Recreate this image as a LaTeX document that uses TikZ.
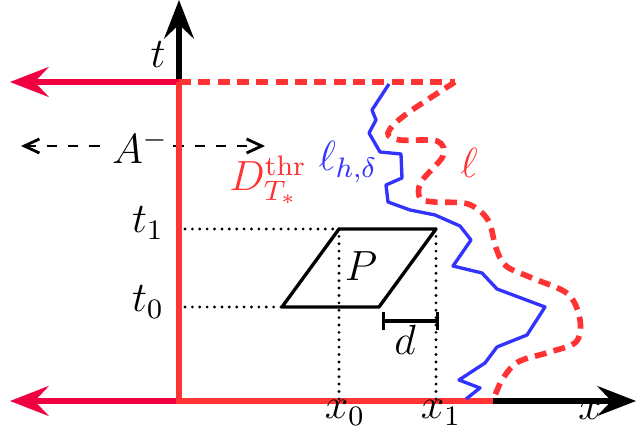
\documentclass[tikz,border=0pt]{standalone}
\usepackage{tikz}
\usetikzlibrary{arrows.meta, calc}
\definecolor{RegRed}{RGB}{255, 51, 51}
\definecolor{AxRed}{RGB}{240, 0, 64}
\definecolor{PathBlue}{RGB}{51, 51, 255}

\begin{document}
\begin{tikzpicture}[
  x=0.01cm, y=-0.01cm,
  every node/.style={font=\fontsize{11.5}{14}\selectfont},
  bigtip/.style={-{Stealth[length=11pt, width=8.5pt, inset=4pt]}},
  axis/.style={bigtip, line width=1.5pt, draw=black},
  leftax/.style={bigtip, line width=1.5pt, draw=AxRed},
  region/.style={line width=1.5pt, draw=RegRed},
  bound/.style={line width=1.6pt, draw=RegRed, dash pattern=on 3.4pt off 2.1pt},
  walk/.style={line width=0.95pt, draw=PathBlue},
  helper/.style={line width=0.9pt, line cap=round, dash pattern=on 0pt off 2.1pt},
  para/.style={line width=0.95pt, line join=round}
]
  \useasboundingbox (0,0) rectangle (636,437);

  %% Points
  \coordinate (O)     at (179,401);
  \coordinate (tTop)  at (179,0);
  \coordinate (tCut)  at (179,82);
  \coordinate (xEnd)  at (636,401);
  \coordinate (xCut)  at (493,401);
  \coordinate (lTop)  at (455,82);
  \coordinate (leftT) at (10,82);
  \coordinate (leftO) at (10,401);

  %% Parallelogram P
  \coordinate (pA) at (282,307);
  \coordinate (pB) at (379,307);
  \coordinate (pC) at (436,229);
  \coordinate (pD) at (339,229);
  \coordinate (tickOne)  at (185,229);
  \coordinate (tickZero) at (185,307);
  \coordinate (footZero) at (339,403);
  \coordinate (footOne)  at (436,403);
  \coordinate (dL) at (382,321);
  \coordinate (dR) at (439,321);

  %% A^- arrow
  \coordinate (aL) at (21,146);
  \coordinate (aR) at (265,146);
  \draw[dashed, line width=0.8pt, {Straight Barb[length=4.3pt, width=4pt]}-{Straight Barb[length=4.3pt, width=4pt]}]
    (aL) -- (aR);
  \node[fill=white, inner sep=0.5pt] (am) at (140,147) {$A^{-}$};

  %% Axes
  \draw[axis]   (tCut) -- (tTop);
  \draw[axis]   (xCut) -- (xEnd);
  \draw[leftax] (tCut) -- (leftT);
  \draw[leftax] (O) -- (leftO);
  \draw[region] (tCut) -- (O) -- (xCut);
  \draw[bound]  (tCut) -- (lTop);

  %% Boundary curve l
  \draw[bound] plot[smooth, tension=0.55] coordinates {
    (455,82) (405,115) (388,133) (400,140) (437,141) (443,156) (421,182)
    (420,198) (434,202) (468,204) (488,220) (496,248) (506,266) (532,278)
    (568,294) (580,320) (576,342) (550,352) (518,362) (502,380) (493,401)};

  %% Discrete path l_{h,delta}
  \draw[walk, line join=round] (389,84) -- (372,110) -- (376,120) -- (369,133)
    -- (380,152) -- (401,154) -- (402,178) -- (386,185) -- (388,202)
    -- (410,210) -- (435,215) -- (460,226) -- (471,240) -- (453,266)
    -- (482,273) -- (497,289) -- (545,307) -- (527,335) -- (497,347)
    -- (485,363) -- (459,380) -- (480,388) -- (466,399);

  %% Helper lines
  \draw[helper] (tickOne) -- (pD);
  \draw[helper] (tickZero) -- (pA);
  \draw[helper] (pD) -- (footZero);
  \draw[helper] (pC) -- (footOne);

  \draw[para] (pA) -- (pB) -- (pC) -- (pD) -- cycle;
  \draw[line width=0.95pt, {Bar[width=5.4pt]}-{Bar[width=5.4pt]}] (dL) -- (dR);

  %% Labels
  \node (tlab)  at (158,55)  {$t$};
  \node (xlab)  at (590,410) {$x$};
  \node (t1)    at (148,223) {$t_1$};
  \node (t0)    at (148,302) {$t_0$};
  \node (x0)    at (345,413) {$x_0$};
  \node (x1)    at (441,413) {$x_1$};
  \node (plab)  at (361,266) {$P$};
  \node (dlab)  at (405,340) {$d$};
  \node[text=RegRed, inner sep=0pt]   (dthr) at (268,180) {$D^{\mathrm{thr}}_{T_*}$};
  \node[text=PathBlue, inner sep=0pt] (lhd)  at (348,162) {$\ell_{h,\delta}$};
  \node[text=RegRed]   (ell)  at (469,163) {$\ell$};
\end{tikzpicture}
\end{document}
